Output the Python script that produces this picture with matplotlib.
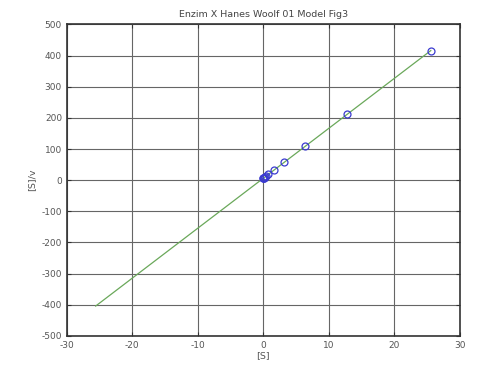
import matplotlib
matplotlib.use("Agg")
import matplotlib.pyplot as plt

plt.rcParams["axes.unicode_minus"] = False

# Hanes-Woolf data: substrate concentration and [S]/v
s_conc = [0.0125, 0.025, 0.05, 0.1, 0.2, 0.4, 0.8, 1.6, 3.2, 6.4, 12.8, 25.6]
s_over_v = [6.2, 6.4, 6.8, 7.6, 9.2, 12.4, 18.8, 31.6, 57.3, 108.5, 211, 416]

# fitted regression line end points
fit_x = [-25.6, 25.6]
fit_y = [-404, 416]

x_ticks = [-30, -20, -10, 0, 10, 20, 30]
y_ticks = [-500, -400, -300, -200, -100, 0, 100, 200, 300, 400, 500]

fig = plt.figure(figsize=(4.99, 3.70), dpi=100)
ax = fig.add_axes([0.134, 0.092, 0.787, 0.842])

ax.plot(fit_x, fit_y, color="#6aa85a", lw=0.9, zorder=3)
ax.plot(s_conc, s_over_v, linestyle="none", marker="o", markersize=5,
        markerfacecolor="none", markeredgecolor="#3b3bd0", markeredgewidth=0.9, zorder=4)

ax.set_xlim(-30, 30)
ax.set_ylim(-500, 500)
ax.set_xticks(x_ticks)
ax.set_yticks(y_ticks)
ax.grid(True, color="#666666", lw=0.8)
ax.set_axisbelow(True)
ax.tick_params(direction="in", length=3, labelsize=6.5, colors="#333333",
               labelcolor="#555555", top=True, right=True)
for sp in ax.spines.values():
    sp.set_color("#333333")
    sp.set_linewidth(1.2)

ax.set_title("Enzim X Hanes Woolf 01 Model Fig3", fontsize=6.8, color="#444444", pad=5)
ax.set_xlabel("[S]", fontsize=6.8, color="#555555", labelpad=1)
ax.set_ylabel("[S]/v", fontsize=6.8, color="#555555", labelpad=4)

fig.savefig("out.png", dpi=100)
